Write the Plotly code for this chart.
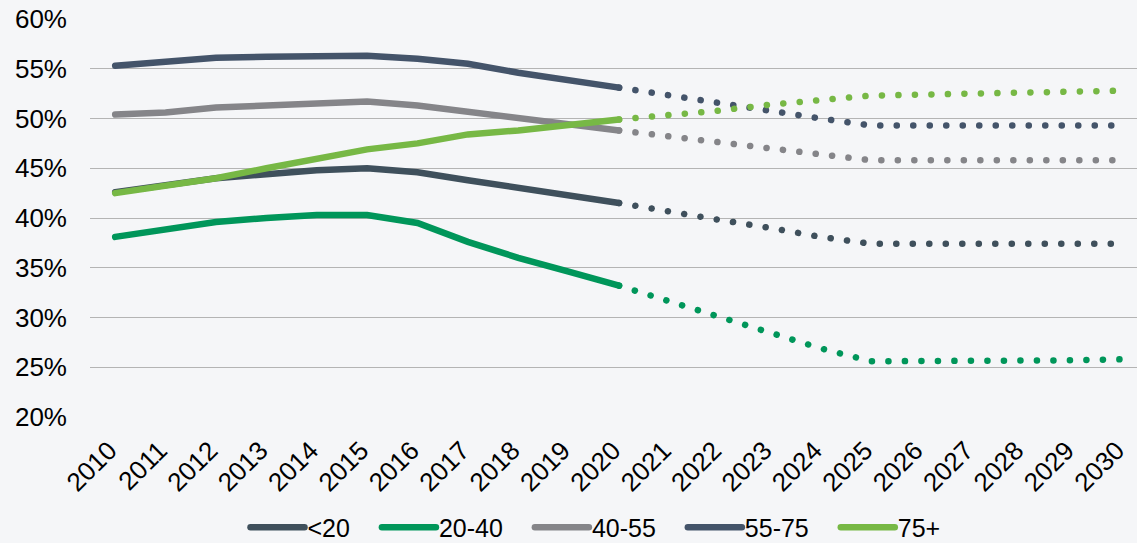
import plotly.graph_objects as go

years = [str(y) for y in range(2010, 2031)]
hist_years = years[:11]
proj_years = years[10:]

series_names = ["<20", "20-40", "40-55", "55-75", "75+"]
colors = ["#3F505C", "#00965A", "#858589", "#44546A", "#77B845"]

# historical values (%), 2010-2020
hist_lt20 = [42.6, 43.3, 44.0, 44.4, 44.8, 45.0, 44.6, 43.8, 43.0, 42.2, 41.5]
hist_20_40 = [38.1, 38.9, 39.6, 40.0, 40.3, 40.3, 39.5, 37.6, 36.0, 34.6, 33.2]
hist_40_55 = [50.4, 50.6, 51.1, 51.3, 51.5, 51.7, 51.3, 50.7, 50.1, 49.5, 48.8]
hist_55_75 = [55.3, 55.7, 56.1, 56.2, 56.3, 56.3, 56.0, 55.5, 54.6, 53.8, 53.1]
hist_75p = [42.5, 43.2, 44.0, 45.0, 45.9, 46.9, 47.5, 48.4, 48.8, 49.4, 49.9]

# projected values (%), 2020-2030
proj_lt20 = [41.5, 40.6, 39.8, 39.0, 38.1, 37.4, 37.4, 37.4, 37.4, 37.4, 37.4]
proj_20_40 = [33.2, 31.6, 30.0, 28.4, 26.9, 25.6, 25.6, 25.6, 25.7, 25.7, 25.8]
proj_40_55 = [48.8, 48.2, 47.6, 47.0, 46.4, 45.8, 45.8, 45.8, 45.8, 45.8, 45.8]
proj_55_75 = [53.1, 52.3, 51.5, 50.7, 50.0, 49.3, 49.3, 49.3, 49.3, 49.3, 49.3]
proj_75p = [49.9, 50.3, 50.8, 51.4, 51.9, 52.3, 52.4, 52.5, 52.6, 52.7, 52.8]

hist = [hist_lt20, hist_20_40, hist_40_55, hist_55_75, hist_75p]
proj = [proj_lt20, proj_20_40, proj_40_55, proj_55_75, proj_75p]

FONT = "Liberation Sans, Arial, sans-serif"
BG = "#F5F6F8"

fig = go.Figure()
for name, col, h, p in zip(series_names, colors, hist, proj):
    fig.add_trace(go.Scatter(
        x=proj_years, y=p, mode="lines", name=name, showlegend=False,
        line=dict(color=col, width=6.5, dash="0.1px,16.4px"),
        hoverinfo="skip", legendgroup=name,
    ))
    fig.add_trace(go.Scatter(
        x=hist_years, y=h, mode="lines", name=name,
        line=dict(color=col, width=6.5), legendgroup=name,
    ))

fig.update_layout(
    width=1137, height=543,
    margin=dict(l=90, r=0, t=18, b=125, autoexpand=False),
    paper_bgcolor=BG, plot_bgcolor=BG,
    font=dict(family=FONT, size=25, color="#000000"),
    showlegend=True,
    legend=dict(
        orientation="h", x=0.5 + 16 / 1137, xanchor="center", xref="container",
        y=15.5 / 543, yanchor="middle", yref="container",
        font=dict(size=25, family=FONT), bgcolor="rgba(0,0,0,0)",
        traceorder="normal", itemwidth=74, tracegroupgap=0,
    ),
    xaxis=dict(
        type="category", categoryorder="array", categoryarray=years,
        range=[-0.5, 20.28], tickangle=-45, showgrid=False, zeroline=False,
        showline=False, ticks="", tickfont=dict(size=26, family=FONT),
        ticklabelstandoff=11, ticklabelshift=-6, automargin=False,
    ),
    yaxis=dict(
        range=[19.9, 60.1], tickvals=[20, 25, 30, 35, 40, 45, 50, 55, 60],
        ticktext=["20%", "25%", "30%", "35%", "40%", "45%", "50%", "55%", "60%"],
        showgrid=True, gridcolor="#B4B4B4", gridwidth=1.3, zeroline=False,
        showline=False, ticks="", tickfont=dict(size=26, family=FONT),
        ticklabelstandoff=22, automargin=False,
    ),
)

post = """
var s=document.createElement('style');
s.textContent='path.js-line{stroke-linecap:round;}';
document.head.appendChild(s);
var gd=document.getElementById('{plot_id}');
function fixLegend(){
  var ps=gd.querySelectorAll('.legend .legendlines path');
  ps.forEach(function(p){p.setAttribute('d','M27,0h54');});
}
fixLegend();
gd.on('plotly_afterplot', fixLegend);
"""
fig.write_html("out.html", post_script=post)
